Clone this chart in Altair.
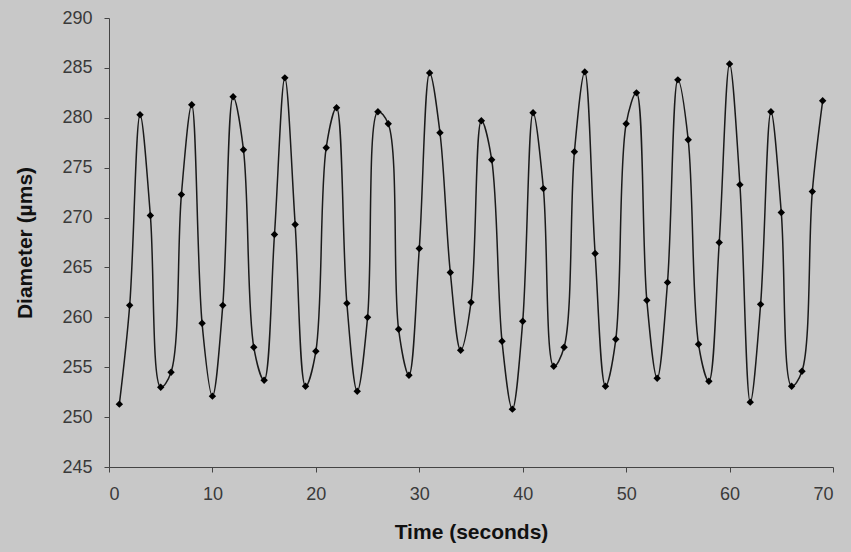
import altair as alt
import pandas as pd

time_s = list(range(1, 70))
diameter = [
    251.3, 261.2, 280.3, 270.2, 253.0, 254.5, 272.3, 281.3, 259.4, 252.1,
    261.2, 282.1, 276.8, 257.0, 253.7, 268.3, 284.0, 269.3, 253.1, 256.6,
    277.0, 281.0, 261.4, 252.6, 260.0, 280.6, 279.4, 258.8, 254.2, 266.9,
    284.5, 278.5, 264.5, 256.7, 261.5, 279.7, 275.8, 257.6, 250.8, 259.6,
    280.5, 272.9, 255.1, 257.0, 276.6, 284.6, 266.4, 253.1, 257.8, 279.4,
    282.5, 261.7, 253.9, 263.5, 283.8, 277.8, 257.3, 253.6, 267.5, 285.4,
    273.3, 251.5, 261.3, 280.6, 270.5, 253.1, 254.6, 272.6, 281.7,
]

df = pd.DataFrame({"t": time_s, "d": diameter})

x = alt.X("t:Q", scale=alt.Scale(domain=[0, 70], nice=False),
          axis=alt.Axis(title="Time (seconds)", values=list(range(0, 71, 10)),
                        grid=False, labelPadding=13, titlePadding=18, tickSize=5))
y = alt.Y("d:Q", scale=alt.Scale(domain=[245, 290], nice=False, zero=False),
          axis=alt.Axis(title="Diameter (µms)", values=list(range(245, 291, 5)),
                        grid=False, labelPadding=12, titlePadding=26, tickSize=5))

line = alt.Chart(df).mark_line(color="#1a1a1a", strokeWidth=1.5,
                               interpolate="catmull-rom").encode(x=x, y=y)
pts = alt.Chart(df).mark_point(shape="diamond", filled=True, color="#000000",
                               size=55, opacity=1).encode(x="t:Q", y="d:Q")

chart = (line + pts).properties(
    width=724, height=449,
    padding={"left": 109, "top": 18, "right": 18, "bottom": 85},
    autosize=alt.AutoSizeParams(type="none"),
    background="#c8c8c8",
).configure_view(stroke=None).configure_axis(
    domainColor="#444444", tickColor="#444444",
    labelFont="Liberation Sans", labelFontSize=18, labelColor="#3a3a3a",
    titleFont="Liberation Sans", titleFontSize=21, titleFontWeight="bold",
    titleColor="#111111",
)

chart.save("out.html", embed_options={"renderer": "svg", "actions": False})
